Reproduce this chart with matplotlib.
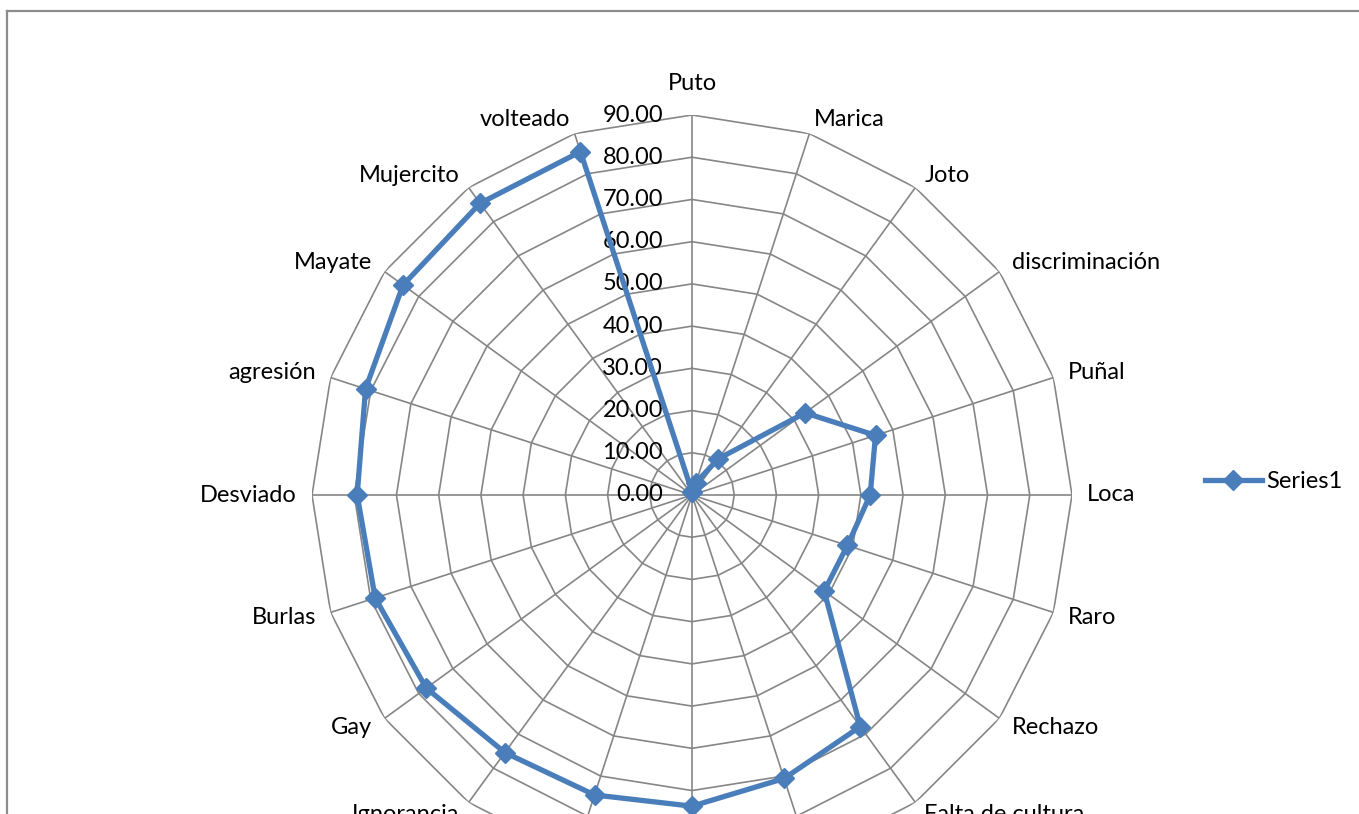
import numpy as np
import matplotlib
matplotlib.use("Agg")
import matplotlib.pyplot as plt
from matplotlib.lines import Line2D
from matplotlib.transforms import offset_copy

plt.rcParams['font.family'] = ['Lato', 'DejaVu Sans']

# categories clockwise from the top; the three at the bottom are cut off in the picture
categories = [
    "Puto", "Marica", "Joto", "discriminación", "Puñal", "Loca", "Raro",
    "Rechazo", "Falta de cultura", "", "", "", "Ignorancia", "Gay",
    "Burlas", "Desviado", "agresión", "Mayate", "Mujercito", "volteado",
]
series1 = [
    0.8, 3.1, 10.6, 33.1, 45.7, 42.2, 38.7, 38.7, 67.8, 70.6,
    73.7, 74.7, 75.4, 77.8, 78.9, 79.3, 81.3, 84.6, 85.4, 85.5,
]
rings = [0, 10, 20, 30, 40, 50, 60, 70, 80, 90]

W, H = 1359, 814
cx, cy, R = 692, 495, 380
blue = "#4a7ebb"
grid_col = "#868686"
fs = 17

fig = plt.figure(figsize=(W / 100, H / 100), dpi=100)
ax = fig.add_axes([(cx - R) / W, (H - cy - R) / H, 2 * R / W, 2 * R / H], polar=True)
ax.set_theta_zero_location("N")
ax.set_theta_direction(-1)
ax.set_ylim(0, 90)
ax.grid(False)
ax.spines["polar"].set_visible(False)
ax.set_xticks([])
ax.set_yticks([])
ax.patch.set_alpha(0)

n = len(categories)
ang = np.linspace(0, 2 * np.pi, n, endpoint=False)
ang_c = np.append(ang, ang[0])

# polygon grid
for r in rings[1:]:
    ax.plot(ang_c, [r] * (n + 1), color=grid_col, lw=1.2, zorder=1)
for a in ang:
    ax.plot([a, a], [0, 90], color=grid_col, lw=1.2, zorder=1)

# value labels along the vertical axis
tick_tr = offset_copy(ax.transData, fig=fig, x=-29, y=0, units="dots")
for r in rings:
    ax.text(0, r, f"{r:.2f}", transform=tick_tr, ha="right", va="center",
            fontsize=fs, color="black")

# category labels
for a, lab in zip(ang, categories):
    s, c = np.sin(a), np.cos(a)
    if abs(s) < 0.01:
        ha = "center"
        va = "bottom" if c > 0 else "top"
        rr = 95.0
    else:
        ha = "left" if s > 0 else "right"
        va = "center"
        rr = 93.6
    ax.text(a, rr, lab, ha=ha, va=va, fontsize=fs, color="black", clip_on=False)

vals = np.append(series1, series1[0])
line, = ax.plot(ang_c, vals, color=blue, lw=3.8, marker="D", markersize=10,
                markeredgecolor=blue, markerfacecolor=blue, zorder=3, label="Series1")

fig.legend(handles=[line], loc="center left", bbox_to_anchor=(1205 / W, 1 - 482 / H),
           frameon=False, fontsize=fs, handlelength=2.4, handletextpad=0.2,
           borderpad=0, borderaxespad=0)

# chart area border (top and left edges visible)
fig.add_artist(Line2D([7 / W, 7 / W], [0, 1 - 10.5 / H], color="#8c8c8c", lw=1.6))
fig.add_artist(Line2D([7 / W, 1], [1 - 10.5 / H, 1 - 10.5 / H], color="#8c8c8c", lw=1.6))

fig.savefig("out.png", dpi=100)
